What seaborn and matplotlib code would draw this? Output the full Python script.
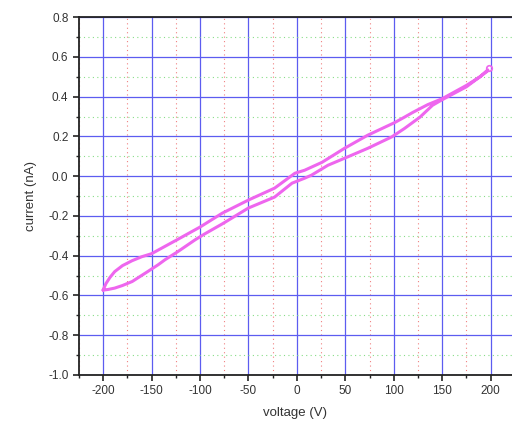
import numpy as np
import pandas as pd
import matplotlib
matplotlib.use("Agg")
import matplotlib.pyplot as plt
from matplotlib.ticker import MultipleLocator
import seaborn as sns

# upper branch (-200 V -> +200 V)
up_voltage = [-200, -197, -193, -188, -180, -170, -160, -150, -123, -100, -77, -50,
              -23, -2, 8, 26, 49, 73, 101, 111, 120, 135, 150, 175, 189, 197]
up_current = [-0.573, -0.54, -0.51, -0.48, -0.45, -0.425, -0.405, -0.39, -0.318,
              -0.256, -0.186, -0.12, -0.06, 0.015, 0.03, 0.07, 0.14, 0.206, 0.27,
              0.297, 0.322, 0.36, 0.39, 0.457, 0.50, 0.535]

# lower branch (+200 V -> -200 V)
down_voltage = [197, 175, 150, 140, 127, 111, 98, 73, 49, 32, 15, 8, -5, -23, -50,
                -77, -95, -105, -123, -136, -143, -154, -170, -180, -188, -195, -200]
down_current = [0.53, 0.45, 0.385, 0.357, 0.297, 0.24, 0.198, 0.14, 0.09, 0.055,
                0.005, -0.01, -0.035, -0.105, -0.16, -0.24, -0.29, -0.32, -0.38,
                -0.42, -0.445, -0.48, -0.53, -0.55, -0.563, -0.57, -0.573]

end_point = (198, 0.545)

df = pd.DataFrame({
    "voltage": up_voltage + down_voltage,
    "current": up_current + down_current,
})

sns.set_style("white")
plt.rcParams["font.family"] = ["Liberation Sans", "DejaVu Sans"]

fig = plt.figure(figsize=(5.12, 4.30), dpi=100)
ax = fig.add_axes([0.154, 0.128, 0.846, 0.832])

line_color = "#ee66ee"
sns.lineplot(data=df, x="voltage", y="current", sort=False, estimator=None,
             color=line_color, lw=2.2, ax=ax)
ax.plot([end_point[0]], [end_point[1]], "o", mfc="none", mec=line_color, ms=4, mew=1.2)

ax.set_xlim(-225, 222)
ax.set_ylim(-1.0, 0.8)
ax.xaxis.set_major_locator(MultipleLocator(50))
ax.xaxis.set_minor_locator(MultipleLocator(25))
ax.yaxis.set_major_locator(MultipleLocator(0.2))
ax.yaxis.set_minor_locator(MultipleLocator(0.1))
ax.yaxis.set_major_formatter(plt.FuncFormatter(lambda v, p: f"{v:.1f}"))
ax.xaxis.set_major_formatter(plt.FuncFormatter(lambda v, p: f"{v:.0f}"))

ax.grid(which="major", color="#5c5cf0", lw=0.9, ls="-")
ax.grid(which="minor", axis="x", color="#f08080", lw=0.8, ls=(0, (1, 3)))
ax.grid(which="minor", axis="y", color="#88dd88", lw=0.8, ls=(0, (1, 3)))
ax.set_axisbelow(True)

for s in ["left", "bottom", "top"]:
    ax.spines[s].set_color("#222222")
    ax.spines[s].set_linewidth(1.3)
ax.spines["right"].set_visible(False)

ax.tick_params(which="major", direction="out", length=4, width=1.2, color="#222222",
               labelsize=8.5, labelcolor="#333333", left=True, bottom=True)
ax.tick_params(which="minor", direction="out", length=2.5, width=1.0, color="#222222",
               left=True, bottom=True)

ax.set_xlabel("voltage (V)", fontsize=9.5, color="#333333", labelpad=7)
ax.set_ylabel("current (nA)", fontsize=9.5, color="#333333", labelpad=8)

fig.savefig("out.png", dpi=100)
